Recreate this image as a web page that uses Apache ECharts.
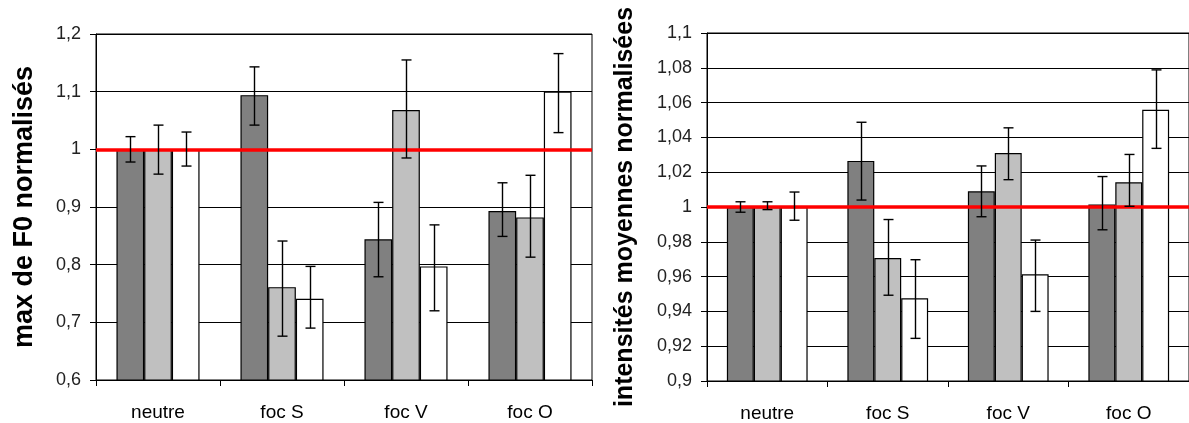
<!DOCTYPE html>
<html>
<head>
<meta charset="utf-8">
<script src="https://cdn.jsdelivr.net/npm/echarts@6/dist/echarts.min.js"></script>
<style>
html,body{margin:0;padding:0;background:#fff;}
#c{width:1189px;height:423px;}
</style>
</head>
<body>
<div id="c"></div>
<script>
// ---- Data ----
const categories = ['neutre', 'foc S', 'foc V', 'foc O'];

// Left chart: max de F0 normalisés
const f0Dark  = [1.000, 1.094, 0.844, 0.893];
const f0Light = [1.000, 0.761, 1.068, 0.882];
const f0White = [1.000, 0.741, 0.797, 1.100];
const f0DarkLow   = [0.978, 1.042, 0.779, 0.849];
const f0DarkHigh  = [1.022, 1.143, 0.908, 0.942];
const f0LightLow  = [0.957, 0.676, 0.985, 0.813];
const f0LightHigh = [1.042, 0.841, 1.155, 0.955];
const f0WhiteLow  = [0.971, 0.690, 0.720, 1.029];
const f0WhiteHigh = [1.030, 0.797, 0.869, 1.166];
const f0Ticks = ['0,6', '0,7', '0,8', '0,9', '1', '1,1', '1,2'];

// Right chart: intensités moyennes normalisées
const inDark  = [1.000, 1.0265, 1.009, 1.0014];
const inLight = [1.000, 0.9707, 1.031, 1.0142];
const inWhite = [1.000, 0.9476, 0.9613, 1.0559];
const inDarkLow   = [0.997, 1.004, 0.9944, 0.9869];
const inDarkHigh  = [1.003, 1.0487, 1.0236, 1.0175];
const inLightLow  = [0.9985, 0.9493, 1.0157, 1.0004];
const inLightHigh = [1.003, 0.9928, 1.0455, 1.0302];
const inWhiteLow  = [0.9924, 0.9245, 0.940, 1.0337];
const inWhiteHigh = [1.0086, 0.9697, 0.981, 1.0788];
const inTicks = ['0,9', '0,92', '0,94', '0,96', '0,98', '1', '1,02', '1,04', '1,06', '1,08', '1,1'];

const referenceLine = 1;

// ---- Styling ----
const FONT = "'Liberation Sans', Arial, sans-serif";
const GAP = 0.33;
const colors = ['#808080', '#c0c0c0', '#ffffff'];

function fmtComma(v) {
  return String(Math.round(v * 1000) / 1000).replace('.', ',');
}

function errData(lows, highs, k) {
  return lows.map((lo, i) => [i, lo, highs[i], k]);
}

function errRender(params, api) {
  const cat = api.value(0), lo = api.value(1), hi = api.value(2), k = api.value(3);
  const catW = api.size([1, 0])[0];
  const bw = catW * (1 - GAP) / 3;
  const pLo = api.coord([cat, lo]);
  const pHi = api.coord([cat, hi]);
  const x = Math.round(pLo[0] + (k - 1) * bw) + 0.5;
  const cap = 5;
  const st = { stroke: '#000', lineWidth: 1.4 };
  return {
    type: 'group',
    children: [
      { type: 'line', shape: { x1: x, y1: pLo[1], x2: x, y2: pHi[1] }, style: st },
      { type: 'line', shape: { x1: x - cap, y1: pHi[1], x2: x + cap, y2: pHi[1] }, style: st },
      { type: 'line', shape: { x1: x - cap, y1: pLo[1], x2: x + cap, y2: pLo[1] }, style: st }
    ]
  };
}

function barSeries(data, k, gi, withLine) {
  const s = {
    type: 'bar',
    data: data,
    xAxisIndex: gi, yAxisIndex: gi,
    barGap: '0%', barCategoryGap: (GAP * 100) + '%',
    itemStyle: { color: colors[k], borderColor: '#000', borderWidth: 1.2 },
    z: 2
  };
  if (withLine) {
    s.markLine = {
      silent: true, symbol: ['none', 'none'],
      label: { show: false },
      lineStyle: { color: '#ff0000', width: 3.5, type: 'solid' },
      data: [{ yAxis: referenceLine }],
      z: 5
    };
  }
  return s;
}

function errSeries(lows, highs, k, gi) {
  return {
    type: 'custom',
    xAxisIndex: gi, yAxisIndex: gi,
    renderItem: errRender,
    data: errData(lows, highs, k),
    encode: { x: 0, y: [1, 2] },
    z: 10, clip: false
  };
}

function xAxisCfg(gi) {
  return {
    type: 'category', gridIndex: gi, data: categories,
    boundaryGap: true,
    axisLine: { lineStyle: { color: '#000', width: 1 } },
    axisTick: { show: true, length: 6, lineStyle: { color: '#000' } },
    axisLabel: { color: '#000', fontSize: 19, fontFamily: FONT, margin: 23 },
    splitLine: { show: false }
  };
}

function yAxisCfg(gi, min, max, interval, ticks, name, nameGap, nameSize) {
  return {
    type: 'value', gridIndex: gi, min: min, max: max, interval: interval,
    axisLine: { show: true, lineStyle: { color: '#000', width: 1 } },
    axisTick: { show: true, length: 6, lineStyle: { color: '#000' } },
    axisLabel: {
      color: '#222', fontSize: 18, fontFamily: FONT, margin: 15,
      formatter: function (v) {
        const idx = Math.round((v - min) / interval);
        return ticks[idx] !== undefined ? ticks[idx] : fmtComma(v);
      }
    },
    splitLine: { show: true, lineStyle: { color: '#000', width: 1 } },
    name: name, nameLocation: 'middle', nameRotate: 90, nameGap: nameGap,
    nameTextStyle: { color: '#000', fontSize: nameSize, fontWeight: 'bold', fontFamily: FONT }
  };
}

const chart = echarts.init(document.getElementById('c'), null, { renderer: 'canvas' });
chart.setOption({
  animation: false,
  backgroundColor: '#fff',
  grid: [
    { left: 96, top: 34, width: 496, height: 346, show: true, borderColor: '#000', borderWidth: 1, backgroundColor: '#fff' },
    { left: 707, top: 33, width: 489, height: 349, show: true, borderColor: '#000', borderWidth: 1, backgroundColor: '#fff' }
  ],
  xAxis: [xAxisCfg(0), xAxisCfg(1)],
  yAxis: [
    yAxisCfg(0, 0.6, 1.2, 0.1, f0Ticks, 'max de F0 normalisés', 58, 27),
    yAxisCfg(1, 0.9, 1.1, 0.02, inTicks, 'intensités moyennes normalisées', 69, 25)
  ],
  series: [
    barSeries(f0Dark, 0, 0, true),
    barSeries(f0Light, 1, 0, false),
    barSeries(f0White, 2, 0, false),
    errSeries(f0DarkLow, f0DarkHigh, 0, 0),
    errSeries(f0LightLow, f0LightHigh, 1, 0),
    errSeries(f0WhiteLow, f0WhiteHigh, 2, 0),
    barSeries(inDark, 0, 1, true),
    barSeries(inLight, 1, 1, false),
    barSeries(inWhite, 2, 1, false),
    errSeries(inDarkLow, inDarkHigh, 0, 1),
    errSeries(inLightLow, inLightHigh, 1, 1),
    errSeries(inWhiteLow, inWhiteHigh, 2, 1)
  ]
});
</script>
</body>
</html>
